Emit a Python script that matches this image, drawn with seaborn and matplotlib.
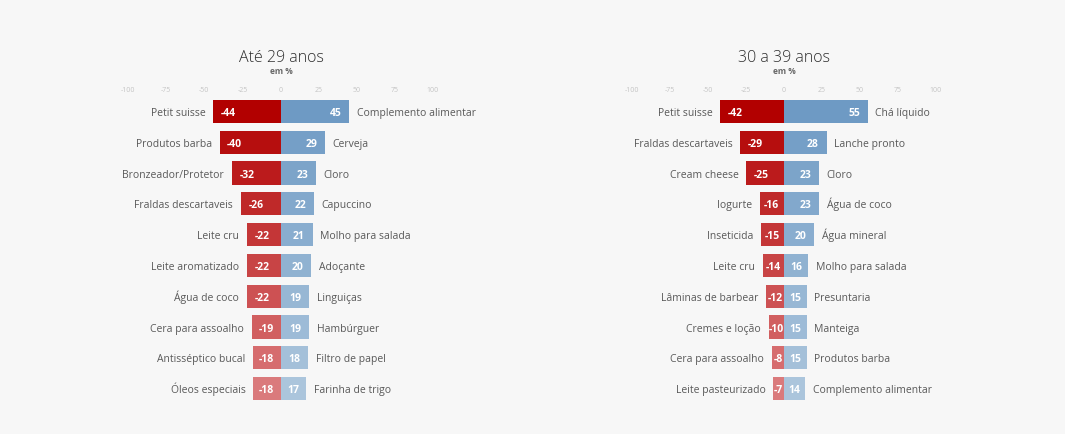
import numpy as np
import seaborn as sns
import matplotlib.pyplot as plt
from matplotlib.colors import to_rgb

# Até 29 anos
left_neg_labels = ["Petit suisse", "Produtos barba", "Bronzeador/Protetor", "Fraldas descartaveis",
                   "Leite cru", "Leite aromatizado", "Água de coco", "Cera para assoalho",
                   "Antisséptico bucal", "Óleos especiais"]
left_neg = [-44, -40, -32, -26, -22, -22, -22, -19, -18, -18]
left_pos_labels = ["Complemento alimentar", "Cerveja", "Cloro", "Capuccino", "Molho para salada",
                   "Adoçante", "Linguiças", "Hambúrguer", "Filtro de papel", "Farinha de trigo"]
left_pos = [45, 29, 23, 22, 21, 20, 19, 19, 18, 17]

# 30 a 39 anos
right_neg_labels = ["Petit suisse", "Fraldas descartaveis", "Cream cheese", "Iogurte", "Inseticida",
                    "Leite cru", "Lâminas de barbear", "Cremes e loção", "Cera para assoalho",
                    "Leite pasteurizado"]
right_neg = [-42, -29, -25, -16, -15, -14, -12, -10, -8, -7]
right_pos_labels = ["Chá líquido", "Lanche pronto", "Cloro", "Água de coco", "Água mineral",
                    "Molho para salada", "Presuntaria", "Manteiga", "Produtos barba",
                    "Complemento alimentar"]
right_pos = [55, 28, 23, 23, 20, 16, 15, 15, 15, 14]

titles = ["Até 29 anos", "30 a 39 anos"]
ticks = [-100, -75, -50, -25, 0, 25, 50, 75, 100]

BG = "#f7f7f7"
TEXT = "#595959"
BASE = 0.12  # baseline offset so that text with accents stays centred on the bar


def gradient(c1, c2, n):
    a, b = np.array(to_rgb(c1)), np.array(to_rgb(c2))
    return [tuple(a + (b - a) * t) for t in np.linspace(0, 1, n)]


def draw_panel(ax, neg_labels, neg, pos_labels, pos):
    rows = neg_labels
    reds = gradient("#b20000", "#da7a7c", len(rows))
    blues = gradient("#6e9ac4", "#abc5dc", len(rows))
    sns.barplot(x=neg, y=rows, hue=rows, palette=reds, legend=False, orient="h",
                width=0.75, saturation=1, linewidth=0, ax=ax)
    sns.barplot(x=pos, y=rows, hue=rows, palette=blues, legend=False, orient="h",
                width=0.75, saturation=1, linewidth=0, ax=ax)

    kw = dict(va="baseline", fontsize=7.5)
    val = dict(va="baseline", fontsize=7.5, color="white", fontweight="bold")
    for i in range(len(rows)):
        n, p = neg[i], pos[i]
        y = i + BASE
        # category names outside the bars
        ax.text(n - 5, y, neg_labels[i], ha="right", color=TEXT, **kw)
        ax.text(p + 5, y, pos_labels[i], ha="left", color=TEXT, **kw)
        # values inside the bars
        if abs(n) >= 20:
            ax.text(n + 5, y, str(n), ha="left", **val)
        else:
            ax.text(n / 2, y, str(n), ha="center", **val)
        if p >= 20:
            ax.text(p - 5, y, str(p), ha="right", **val)
        else:
            ax.text(p / 2, y, str(p), ha="center", **val)

    ax.set_xlim(-100, 100)
    ax.set_ylim(len(rows) - 0.5, -0.5)
    ax.xaxis.tick_top()
    ax.set_xticks(ticks)
    ax.set_xticklabels([str(t) for t in ticks])
    ax.tick_params(axis="x", length=0, labelsize=5, colors="#c4c4c4", pad=2)
    ax.set_yticks([])
    ax.set_xlabel("")
    ax.set_ylabel("")
    ax.set_facecolor(BG)
    for s in ax.spines.values():
        s.set_visible(False)


sns.set_style("white")
plt.rcParams["font.family"] = ["Open Sans", "DejaVu Sans"]

fig = plt.figure(figsize=(10.65, 4.35), dpi=100, facecolor=BG)
W, H = 1065, 435
top, bottom = 97, 405
ax1 = fig.add_axes([128 / W, 1 - bottom / H, (433 - 128) / W, (bottom - top) / H])
ax2 = fig.add_axes([632 / W, 1 - bottom / H, (936 - 632) / W, (bottom - top) / H])

draw_panel(ax1, left_neg_labels, left_neg, left_pos_labels, left_pos)
draw_panel(ax2, right_neg_labels, right_neg, right_pos_labels, right_pos)

for cx, title in zip([281, 784], titles):
    fig.text(cx / W, 1 - 58 / H, title, ha="center", va="center", fontsize=11.5,
             color="#2e2e2e", fontweight="light")
    fig.text(cx / W, 1 - 72 / H, "em %", ha="center", va="center", fontsize=6,
             color="#666666", fontweight="bold")

fig.savefig("out.png", dpi=100, facecolor=BG)
